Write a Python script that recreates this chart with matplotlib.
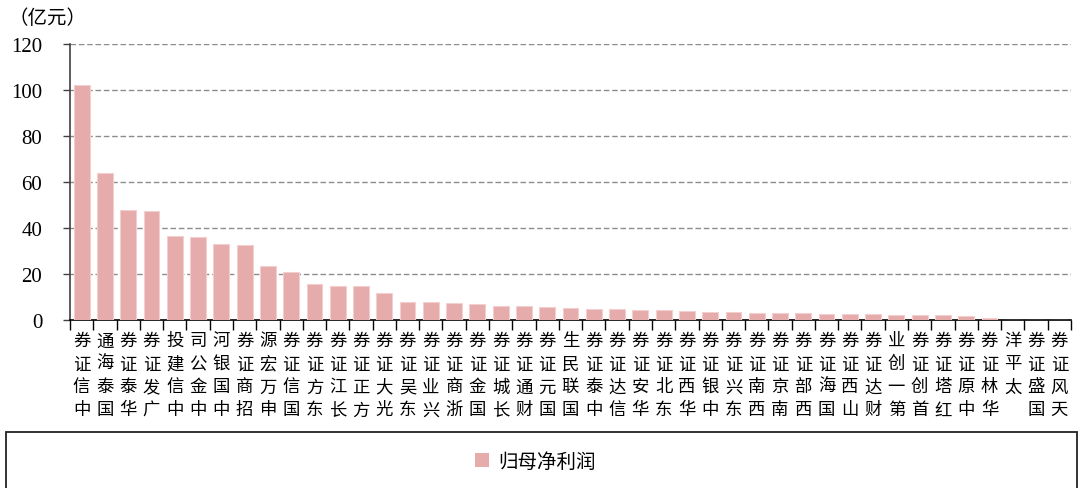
import matplotlib
matplotlib.use("Agg")
import matplotlib.pyplot as plt
from matplotlib.patches import Rectangle, Patch
import numpy as np

plt.rcParams['font.family'] = ['Noto Sans CJK SC', 'DejaVu Sans']

categories = ["中信证券", "国泰海通", "华泰证券", "广发证券", "中信建投", "中金公司", "中国银河",
              "招商证券", "申万宏源", "国信证券", "东方证券", "长江证券", "方正证券", "光大证券",
              "东吴证券", "兴业证券", "浙商证券", "国金证券", "长城证券", "财通证券", "国元证券",
              "国联民生", "中泰证券", "信达证券", "华安证券", "东北证券", "华西证券", "中银证券",
              "东兴证券", "西南证券", "南京证券", "西部证券", "国海证券", "山西证券", "财达证券",
              "第一创业", "首创证券", "红塔证券", "中原证券", "华林证券", "太平洋", "国盛证券",
              "天风证券"]
values = [102.0, 64.0, 48.0, 47.2, 36.5, 36.0, 33.2, 32.7, 23.5, 21.0, 15.8, 14.8, 14.7, 11.6,
          8.0, 7.8, 7.5, 6.8, 6.3, 6.2, 5.6, 5.1, 4.8, 4.6, 4.4, 4.2, 4.0, 3.6,
          3.5, 3.1, 2.9, 2.9, 2.5, 2.5, 2.5, 2.1, 2.0, 2.0, 1.6, 1.0, 0.0, 0.0, 0.0]
series_name = "归母净利润"
yticks = [0, 20, 40, 60, 80, 100, 120]
unit_label = "（亿元）"

W, H = 1085, 489
fig = plt.figure(figsize=(W / 100, H / 100), dpi=100)
ax = fig.add_axes([70 / W, 1 - 321 / H, (1071 - 70) / W, (321 - 45) / H])

x = np.arange(len(categories))
ax.bar(x, values, width=0.68, color='#E6ABAB', edgecolor='#F4CFCF', linewidth=0.8, zorder=3)

ax.set_xlim(-0.5, len(categories) - 0.5)
ax.set_ylim(0, 120)
ax.set_yticks(yticks)
ax.set_yticklabels([str(v) for v in yticks], fontfamily='Liberation Serif', fontsize=15)
ax.tick_params(axis='y', direction='out', length=5, width=1, color='#404040', pad=15)

for v in yticks[1:]:
    ax.axhline(v, color='#8c8c8c', linewidth=1.0, linestyle=(0, (4, 2)), zorder=1)

# category boundary ticks
ax.set_xticks(np.arange(len(categories) + 1) - 0.5)
ax.set_xticklabels([])
ax.tick_params(axis='x', direction='out', length=7, width=1, color='black')

# vertical stacked labels (read bottom-to-top, glyphs upright, top-anchored)
for i, name in enumerate(categories):
    txt = "\n".join(reversed(list(name)))
    ax.text(i, -4.9, txt, ha='center', va='top', fontsize=12.5, linespacing=1.36,
            fontfamily=['Noto Sans CJK SC'], color='black', transform=ax.transData,
            clip_on=False)

for s in ['top', 'right']:
    ax.spines[s].set_visible(False)
ax.spines['left'].set_color('#404040')
ax.spines['left'].set_linewidth(1.2)
ax.spines['bottom'].set_color('black')
ax.spines['bottom'].set_linewidth(1.2)

fig.text(8 / W, 1 - 18 / H, unit_label, ha='left', va='center', fontsize=14)

# legend box
fig.patches.append(Rectangle((6 / W, -0.05), (1077 - 6) / W, 0.05 + 1 - 433 / H,
                             transform=fig.transFigure, fill=False, edgecolor='#222222',
                             linewidth=1.3))
handle = Patch(facecolor='#E6ABAB', edgecolor='none', label=series_name)
fig.legend(handles=[handle], loc='center', bbox_to_anchor=(535 / W, 1 - 462 / H),
           frameon=False, fontsize=14, handlelength=0.75, handleheight=0.75,
           handletextpad=0.45)

fig.savefig("out.png", dpi=100)
